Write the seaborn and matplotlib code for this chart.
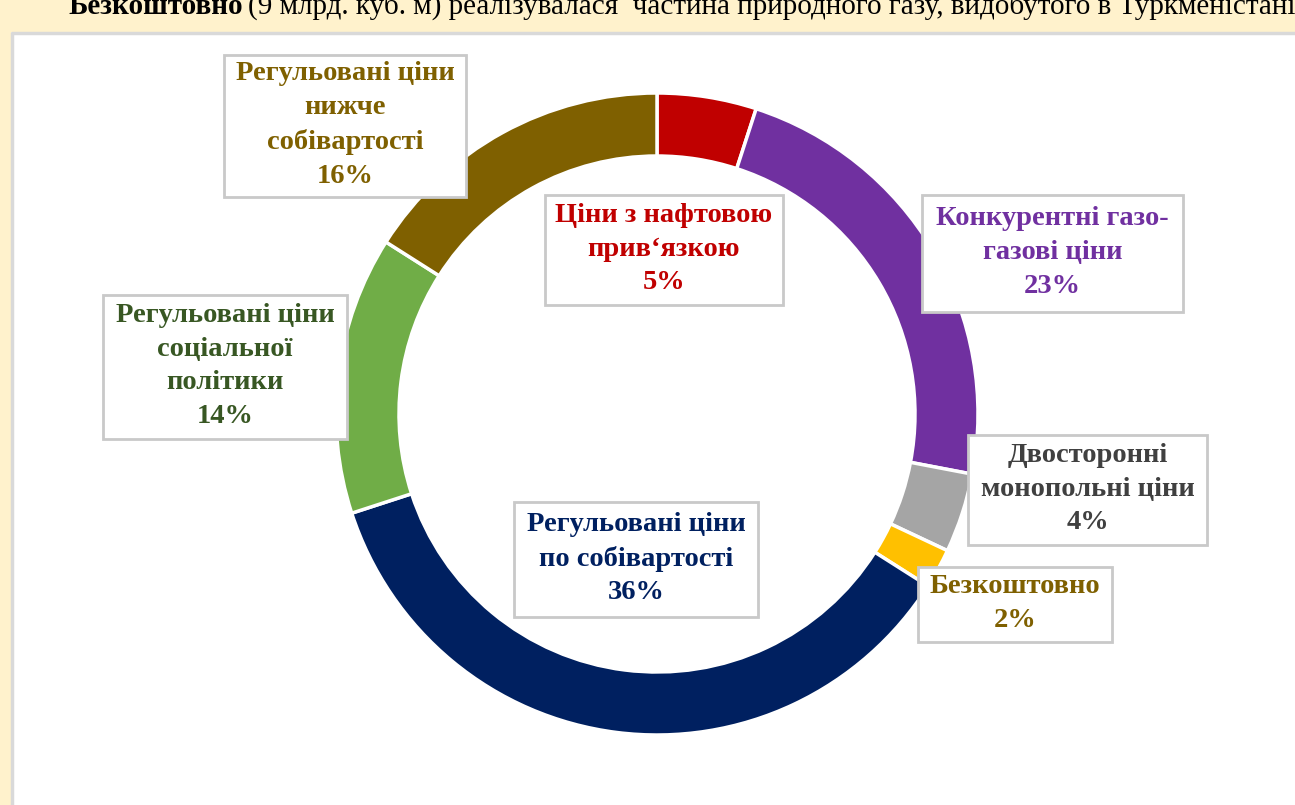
import numpy as np
import seaborn as sns
import matplotlib.pyplot as plt
from matplotlib.patches import Rectangle

# data (clockwise from the top)
categories = ["Ціни з нафтовою\nприв‘язкою", "Конкурентні газо-\nгазові ціни",
              "Двосторонні\nмонопольні ціни", "Безкоштовно",
              "Регульовані ціни\nпо собівартості", "Регульовані ціни\nсоціальної\nполітики",
              "Регульовані ціни\nнижче\nсобівартості"]
shares = [5, 23, 4, 2, 36, 14, 16]
slice_colors = ["#C00000", "#7030A0", "#A5A5A5", "#FFC000", "#002060", "#70AD47", "#7F6000"]
text_colors = ["#C00000", "#7030A0", "#404040", "#7F6000", "#002060", "#385723", "#7F6000"]

# label boxes in pixel coords (left, top, right, bottom)
boxes = [(545, 195, 783, 305), (922, 195, 1183, 312), (968, 435, 1207, 545),
         (918, 567, 1112, 642), (514, 502, 758, 617), (103, 295, 347, 439),
         (224, 55, 466, 197)]

sns.set_theme(style="white")
plt.rcParams['font.family'] = ['Liberation Serif', 'DejaVu Serif']

W, H = 1295, 805
fig = plt.figure(figsize=(W / 100, H / 100), dpi=100)
fig.patch.set_facecolor("white")
ax = fig.add_axes([0, 0, 1, 1])

# page background (yellow strip and shadowed frame)
ax.add_patch(Rectangle((0, H - 32), W, 32, facecolor="#FFF2CC", edgecolor="none", zorder=0))
ax.add_patch(Rectangle((0, 0), 11, H, facecolor="#FFF2CC", edgecolor="none", zorder=0))
ax.plot([12, 12, W], [0, H - 33, H - 33], color="#D9D9D9", lw=2.5, zorder=1)
head = ax.text(68, H - 14, "Безкоштовно", fontsize=21, fontweight="bold", color="black",
               va="baseline", ha="left")
ax.annotate("(9 млрд. куб. м) реалізувалася  частина природного газу, видобутого в Туркменістані",
            xy=(1, 0), xycoords=head, xytext=(4, 0), textcoords="offset points",
            fontsize=21, color="black", va="bottom", ha="left")

cx, cy, r = 657, H - 414, 321
wedges, _ = ax.pie(shares, colors=slice_colors, startangle=90, counterclock=False,
                   center=(cx, cy), radius=r, frame=True,
                   wedgeprops=dict(width=63, edgecolor="white", linewidth=2.5))
ax.set_xlim(0, W)
ax.set_ylim(0, H)
ax.set_aspect("equal")
ax.axis("off")

for cat, val, tc, (x0, y0, x1, y1) in zip(categories, shares, text_colors, boxes):
    ax.add_patch(Rectangle((x0, H - y1), x1 - x0, y1 - y0, facecolor="white",
                           edgecolor="#C9C9C9", lw=2, zorder=3))
    ax.text((x0 + x1) / 2, H - (y0 + y1) / 2 + 1, f"{cat}\n{val}%", ha="center", va="center",
            fontsize=20.5, fontweight="bold", color=tc, linespacing=1.45, zorder=4)

fig.savefig("out.png", dpi=100)
